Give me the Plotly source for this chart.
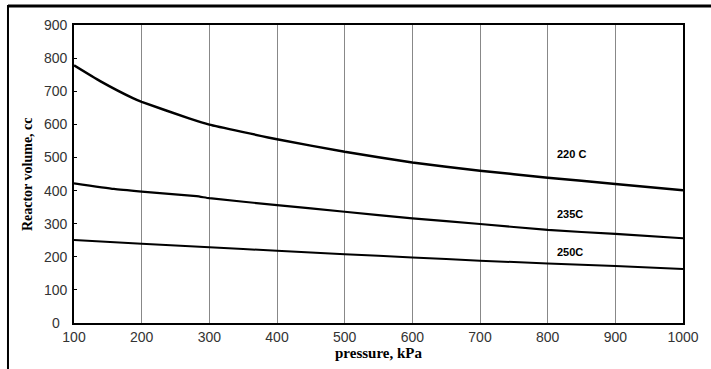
import plotly.graph_objects as go

# ---- data ----
x_220 = [100, 138, 187, 200, 270, 300, 400, 500, 600, 700, 800, 900, 1000]
y_220 = [778, 731, 679, 668, 618, 599, 555, 517, 485, 460, 439, 420, 401]

x_235 = [100, 159, 200, 281, 300, 400, 500, 600, 700, 800, 900, 1000]
y_235 = [422, 405, 397, 383, 377, 356, 336, 316, 299, 281, 269, 256]

x_250 = [100, 200, 300, 400, 500, 600, 700, 800, 900, 1000]
y_250 = [251, 239, 229, 218, 208, 198, 188, 180, 172, 163]

series_labels = ["220 C", "235C", "250C"]
label_x = [811, 811, 811]
label_y = [510, 329, 214]

x_ticks = [100, 200, 300, 400, 500, 600, 700, 800, 900, 1000]
y_ticks = [0, 100, 200, 300, 400, 500, 600, 700, 800, 900]

fig = go.Figure()
for xs, ys, w in [(x_220, y_220, 2.5), (x_235, y_235, 2.2), (x_250, y_250, 2.0)]:
    fig.add_trace(go.Scatter(x=xs, y=ys, mode="lines",
                             line=dict(color="black", width=w, shape="spline", smoothing=0.4),
                             showlegend=False, hoverinfo="skip"))

for t, lx, ly in zip(series_labels, label_x, label_y):
    fig.add_annotation(x=lx, y=ly, text=t, showarrow=False, xanchor="left", yanchor="middle",
                       font=dict(family="Liberation Sans, Arial", size=11, color="black", weight="bold"))

# y tick labels, centred in a column left of the axis (as in the reference)
for v in y_ticks:
    fig.add_annotation(x=-0.0296, xref="paper", y=v, yref="y", text=str(v), showarrow=False,
                       xanchor="center", yanchor="middle",
                       font=dict(family="Liberation Sans, Arial", size=14, color="#333333"))

fig.add_annotation(x=-0.077, xref="paper", y=0.5, yref="paper", text="Reactor volume, cc",
                   textangle=-90, showarrow=False, xanchor="center", yanchor="middle",
                   font=dict(family="Liberation Serif, Times New Roman", size=14,
                             color="black", weight="bold"))

fig.update_layout(
    width=711, height=369,
    margin=dict(l=74, r=28, t=25, b=46),
    paper_bgcolor="white", plot_bgcolor="white",
    showlegend=False,
    xaxis=dict(range=[100, 1000], tickvals=x_ticks, ticktext=[str(v) for v in x_ticks],
               showgrid=True, gridcolor="#888888", gridwidth=1,
               showline=True, linecolor="black", linewidth=2, mirror=True,
               ticks="", zeroline=False,
               tickfont=dict(family="Liberation Sans, Arial", size=14, color="#333333"),
               title=dict(text="pressure, kPa", standoff=2,
                          font=dict(family="Liberation Serif, Times New Roman", size=15,
                                    color="black", weight="bold"))),
    yaxis=dict(range=[0, 900], tickvals=y_ticks, showticklabels=False,
               showgrid=False, showline=True, linecolor="black", linewidth=2, mirror=True,
               ticks="inside", ticklen=3, tickcolor="black", zeroline=False),
)

# outer partial frame (top and left lines)
fig.add_shape(type="line", xref="paper", yref="paper", x0=-0.1084, x1=1.05, y0=1.064, y1=1.064,
              line=dict(color="black", width=3))
fig.add_shape(type="line", xref="paper", yref="paper", x0=-0.1084, x1=-0.1084, y0=1.067, y1=-0.16,
              line=dict(color="black", width=2))

fig.write_html("out.html")
